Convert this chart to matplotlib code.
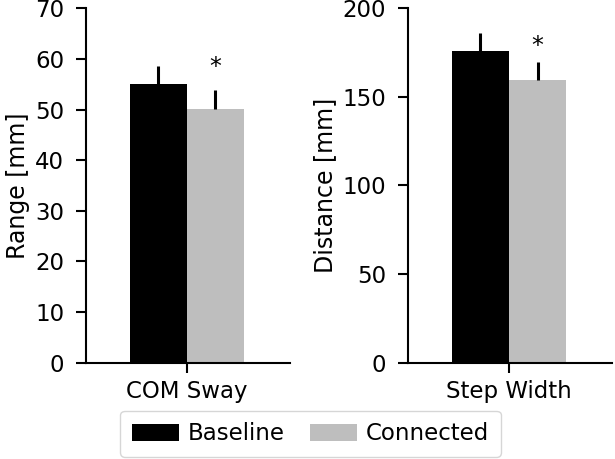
import numpy as np
import matplotlib.pyplot as plt

groups = ['Baseline', 'Connected']
colors = ['black', '#bebebe']

sway_mean = [55.0, 50.1]
sway_err = [3.5, 3.7]
width_mean = [175.9, 159.4]
width_err = [10.0, 10.0]

plt.rcParams['font.size'] = 16.5

fig, (ax1, ax2) = plt.subplots(1, 2, figsize=(6.15, 4.59), dpi=100)
fig.subplots_adjust(left=0.14, right=0.995, top=0.982, bottom=0.21, wspace=0.58)


def bar_panel(ax, means, errs, label, ylabel, ymax, yticks, star_y):
    pos = np.array([-0.25, 0.25])
    for i in range(2):
        ax.bar(pos[i], means[i], width=0.5, color=colors[i], label=groups[i])
        ax.errorbar(pos[i], means[i], yerr=[[0], [errs[i]]], fmt='none',
                    ecolor='black', elinewidth=2.2, capsize=0)
    ax.text(pos[1], star_y, '*', ha='center', va='center', fontsize=17)
    ax.set_xlim(-0.88, 0.9)
    ax.set_ylim(0, ymax)
    ax.set_yticks(yticks)
    ax.set_xticks([0])
    ax.set_xticklabels([label])
    ax.set_ylabel(ylabel, fontsize=17, labelpad=4)
    ax.spines['top'].set_visible(False)
    ax.spines['right'].set_visible(False)
    for s in ['left', 'bottom']:
        ax.spines[s].set_linewidth(1.5)
    ax.tick_params(width=1.5, length=7.2)
    ax.tick_params(axis='y', pad=8.5, labelsize=16.5)
    ax.tick_params(axis='x', pad=5.5, labelsize=16.5)


bar_panel(ax1, sway_mean, sway_err, 'COM Sway', 'Range [mm]', 70,
          np.arange(0, 71, 10), 58.3)
bar_panel(ax2, width_mean, width_err, 'Step Width', 'Distance [mm]', 200,
          np.arange(0, 201, 50), 178.7)

handles, labels = ax1.get_legend_handles_labels()
fig.legend(handles, labels, loc='lower center', ncol=2, bbox_to_anchor=(0.505, 0.0),
           fontsize=16.5, handlelength=2.05, handleheight=0.8, handletextpad=0.4,
           columnspacing=1.1, borderpad=0.5, borderaxespad=0.1)

plt.savefig('out.png')
